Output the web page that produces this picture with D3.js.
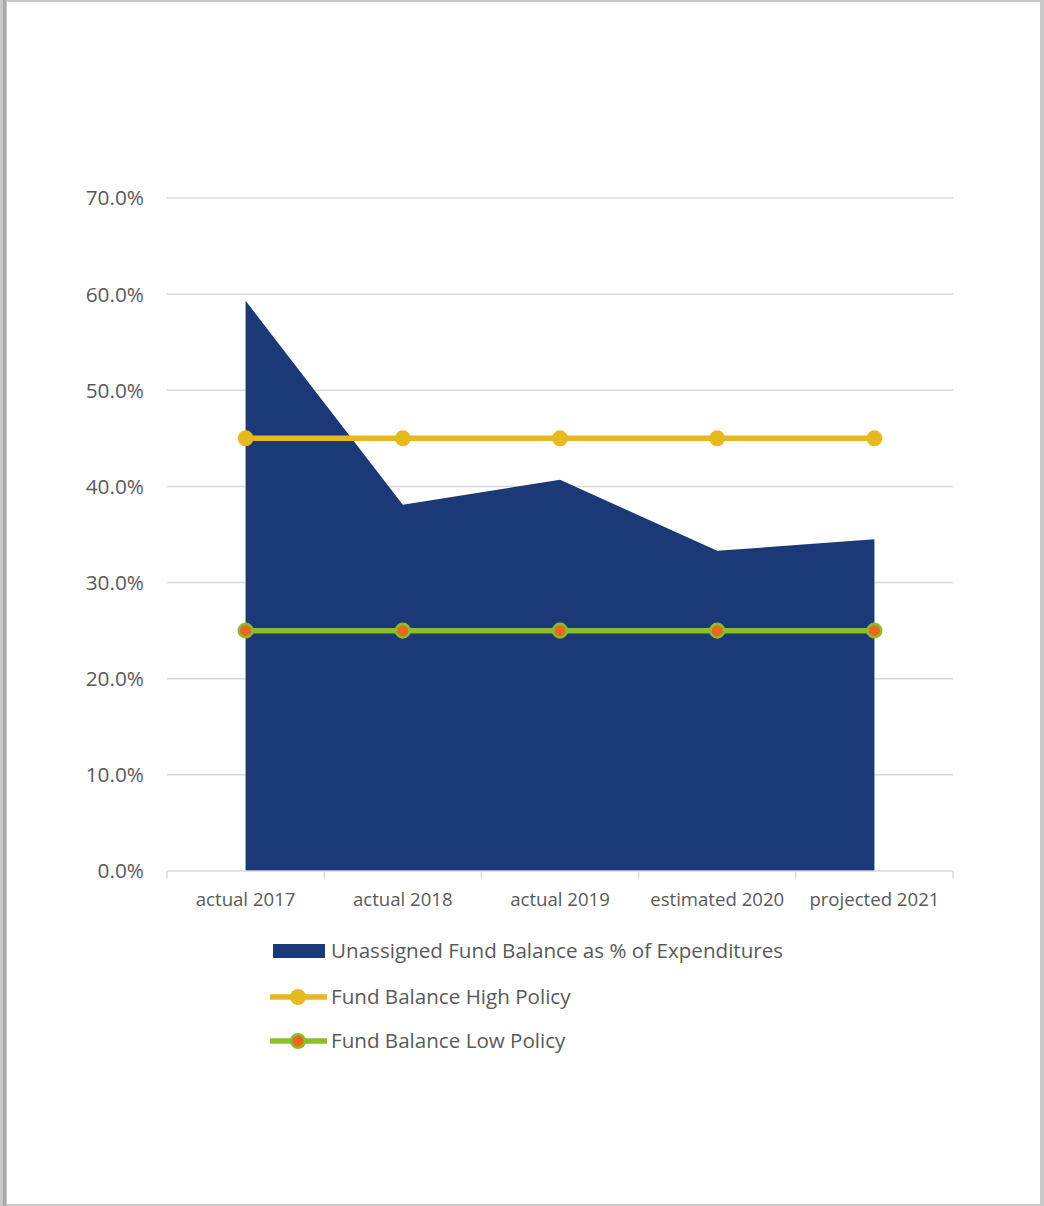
<!DOCTYPE html>
<html>
<head>
<meta charset="utf-8">
<script src="https://cdn.jsdelivr.net/npm/d3@7"></script>
<style>
  html, body { margin: 0; padding: 0; background: #fff; }
  svg { display: block; }
  text { font-family: "Open Sans", "Noto Sans", sans-serif; fill: #595959; }
</style>
</head>
<body>
<svg id="chart" width="1044" height="1206"></svg>
<script>
// Fund balance as a share of expenditures, with high/low policy targets
const categories = ["actual 2017", "actual 2018", "actual 2019", "estimated 2020", "projected 2021"];
const unassignedPct = [59.3, 38.1, 40.7, 33.3, 34.5];
const highPolicyPct = [45, 45, 45, 45, 45];
const lowPolicyPct = [25, 25, 25, 25, 25];
const yTicks = [0, 10, 20, 30, 40, 50, 60, 70];

const svg = d3.select("#chart");

// page frame
svg.append("rect").attr("x", 0).attr("y", 0).attr("width", 1044).attr("height", 1206).attr("fill", "#c8c8c8");
svg.append("rect").attr("x", 3).attr("y", 0).attr("width", 3).attr("height", 1206).attr("fill", "#a9a9a9");
svg.append("rect").attr("x", 7).attr("y", 2).attr("width", 1033).attr("height", 1202).attr("fill", "#ffffff");

const plot = { left: 167, right: 953, top: 198, bottom: 871 };

const x = d3.scaleBand().domain(categories).range([plot.left, plot.right]).padding(0);
const cx = d => x(d) + x.bandwidth() / 2;
const y = d3.scaleLinear().domain([0, 70]).range([plot.bottom, plot.top]);

// gridlines
svg.append("g")
  .selectAll("line")
  .data(yTicks.filter(t => t > 0))
  .join("line")
  .attr("x1", plot.left).attr("x2", plot.right)
  .attr("y1", d => y(d)).attr("y2", d => y(d))
  .attr("stroke", "#d9d9d9").attr("stroke-width", 1.5);

// y tick labels
svg.append("g")
  .selectAll("text")
  .data(yTicks)
  .join("text")
  .attr("x", 144)
  .attr("y", d => y(d))
  .attr("dy", "0.36em")
  .attr("text-anchor", "end")
  .attr("font-size", 20.8)
  .text(d => d3.format(".1f")(d) + "%");

// area series
const area = d3.area()
  .x((d, i) => cx(categories[i]))
  .y0(y(0))
  .y1(d => y(d));
svg.append("path")
  .datum(unassignedPct)
  .attr("d", area)
  .attr("fill", "#1b3976");

// x axis
const gx = svg.append("g").attr("transform", `translate(0,${plot.bottom})`);
gx.append("line").attr("x1", plot.left).attr("x2", plot.right).attr("y1", 0).attr("y2", 0)
  .attr("stroke", "#d9d9d9").attr("stroke-width", 1.5);
const boundaries = categories.map(c => x(c)).concat([plot.right]);
gx.selectAll("line.tick-mark")
  .data(boundaries)
  .join("line")
  .attr("class", "tick-mark")
  .attr("x1", d => d).attr("x2", d => d)
  .attr("y1", 0).attr("y2", 7)
  .attr("stroke", "#d9d9d9").attr("stroke-width", 1.5);
gx.selectAll("text.cat")
  .data(categories)
  .join("text")
  .attr("class", "cat")
  .attr("x", d => cx(d))
  .attr("y", 35)
  .attr("text-anchor", "middle")
  .attr("font-size", 18.6)
  .text(d => d);

// policy lines
const line = d3.line().x((d, i) => cx(categories[i])).y(d => y(d));
function policy(values, color, markerFill, markerStroke) {
  svg.append("path").datum(values).attr("d", line)
    .attr("fill", "none").attr("stroke", color).attr("stroke-width", 5.5);
  svg.append("g").selectAll("circle")
    .data(values)
    .join("circle")
    .attr("cx", (d, i) => cx(categories[i]))
    .attr("cy", d => y(d))
    .attr("r", markerStroke ? 6.8 : 8)
    .attr("fill", markerFill)
    .attr("stroke", markerStroke || "none")
    .attr("stroke-width", markerStroke ? 2.6 : 0);
}
policy(highPolicyPct, "#e6b920", "#e6b920", null);
policy(lowPolicyPct, "#8cbd2c", "#e8681e", "#8cbd2c");

// legend
const legend = svg.append("g");
const legendItems = [
  { label: "Unassigned Fund Balance as % of Expenditures", type: "area", yc: 951 },
  { label: "Fund Balance High Policy", type: "high", yc: 997 },
  { label: "Fund Balance Low Policy", type: "low", yc: 1041 }
];
legendItems.forEach(it => {
  if (it.type === "area") {
    legend.append("rect").attr("x", 273).attr("y", it.yc - 7).attr("width", 52).attr("height", 14).attr("fill", "#1b3976");
  } else {
    const col = it.type === "high" ? "#e6b920" : "#8cbd2c";
    legend.append("line").attr("x1", 270).attr("x2", 327).attr("y1", it.yc).attr("y2", it.yc)
      .attr("stroke", col).attr("stroke-width", 5.5);
    legend.append("circle").attr("cx", 298).attr("cy", it.yc)
      .attr("r", it.type === "high" ? 8 : 6.8)
      .attr("fill", it.type === "high" ? "#e6b920" : "#e8681e")
      .attr("stroke", it.type === "high" ? "none" : "#8cbd2c")
      .attr("stroke-width", it.type === "high" ? 0 : 2.6);
  }
  legend.append("text").attr("x", 331).attr("y", it.yc).attr("dy", "0.36em")
    .attr("font-size", 20.6).text(it.label);
});
</script>
</body>
</html>
